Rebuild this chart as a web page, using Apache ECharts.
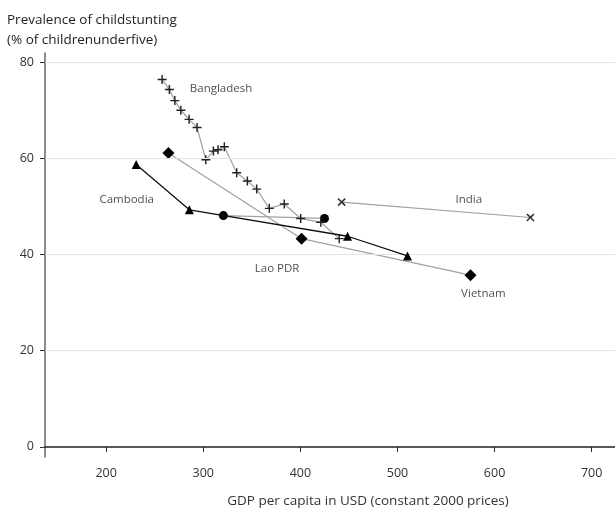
<!DOCTYPE html>
<html>
<head>
<meta charset="utf-8">
<script src="https://cdn.jsdelivr.net/npm/echarts@6/dist/echarts.min.js"></script>
<style>
  html, body { margin: 0; padding: 0; background: #fff; }
  #main { width: 615px; height: 513px; }
</style>
</head>
<body>
<div id="main"></div>
<script>
// GDP per capita (USD, constant 2000 prices) and stunting prevalence (%)
const bangladeshGdp = [257.6, 265.1, 270.7, 276.9, 285.4, 293.6, 302.6, 310.4, 315.2, 321.7, 334.4, 345.4, 355.0, 368.0, 383.4, 400.3, 421.0, 440.0];
const bangladeshStunting = [76.4, 74.3, 72.0, 70.0, 68.1, 66.4, 59.7, 61.5, 61.8, 62.4, 57.0, 55.3, 53.6, 49.6, 50.5, 47.5, 46.7, 43.3];
const cambodiaGdp = [230.9, 285.7, 448.6, 510.3];
const cambodiaStunting = [58.7, 49.3, 43.8, 39.7];
const laoGdp = [320.7, 424.8];
const laoStunting = [48.1, 47.5];
const vietnamGdp = [264.1, 401.2, 575.2];
const vietnamStunting = [61.1, 43.3, 35.7];
const indiaGdp = [442.5, 636.9];
const indiaStunting = [50.9, 47.7];

const xTicks = [200, 300, 400, 500, 600, 700];
const yTicks = [0, 20, 40, 60, 80];
const gridValues = [20, 40, 60, 80];

// country name labels: [gdp, stunting, name]
const countryLabels = [
    [318.3, 74.4, 'Bangladesh'],
    [221.1, 51.3, 'Cambodia'],
    [573.5, 51.4, 'India'],
    [588.4, 31.9, 'Vietnam'],
    [376.0, 37.1, 'Lao PDR']
];

const pair = (xs, ys) => xs.map((x, i) => [x, ys[i]]);

const plusPath = 'path://M4.2,0H5.8V4.2H10V5.8H5.8V10H4.2V5.8H0V4.2H4.2Z';
const font = 'Open Sans';

const myChart = echarts.init(document.getElementById('main'));

const option = {
    animation: false,
    title: {
        text: 'Prevalence of childstunting\n(% of childrenunderfive)',
        left: 2,
        top: 5,
        textStyle: { fontFamily: font, fontSize: 13.5, fontWeight: 'normal', color: '#222', lineHeight: 20 }
    },
    grid: { left: 45, right: 0, top: 53, bottom: 53 },
    xAxis: {
        type: 'value',
        min: 137,
        max: 724,
        name: 'GDP per capita in USD (constant 2000 prices)',
        nameLocation: 'middle',
        nameGap: 37,
        nameTextStyle: { fontFamily: font, fontSize: 13.5, color: '#333', padding: [0, 0, 0, 76] },
        axisLine: { lineStyle: { color: '#222', width: 1.5 } },
        axisTick: { show: true, length: 5, customValues: xTicks, lineStyle: { color: '#222' } },
        axisLabel: { customValues: xTicks, margin: 10, fontFamily: font, fontSize: 12.5, color: '#333' },
        splitLine: { show: false }
    },
    yAxis: {
        type: 'value',
        min: -2.1,
        max: 81.9,
        axisLine: { show: true, lineStyle: { color: '#666', width: 1.5 } },
        axisTick: { show: true, length: 5, customValues: yTicks, lineStyle: { color: '#333' } },
        axisLabel: { customValues: yTicks, margin: 11, fontFamily: font, fontSize: 12.5, color: '#333' },
        splitLine: { show: false }
    },
    series: [
        {
            name: 'grid',
            type: 'line',
            data: [],
            z: 0,
            silent: true,
            markLine: {
                silent: true,
                symbol: 'none',
                label: { show: false },
                lineStyle: { color: '#e3e3e3', width: 1, type: 'solid' },
                data: gridValues.map(v => ({ yAxis: v }))
            }
        },
        {
            name: 'Vietnam',
            type: 'line',
            data: pair(vietnamGdp, vietnamStunting),
            symbol: 'diamond',
            symbolSize: 12,
            lineStyle: { color: '#a0a0a0', width: 1.2 },
            itemStyle: { color: '#000' },
            z: 3
        },
        {
            name: 'Lao PDR',
            type: 'line',
            data: pair(laoGdp, laoStunting),
            symbol: 'circle',
            symbolSize: 9,
            lineStyle: { color: '#a0a0a0', width: 1.2 },
            itemStyle: { color: '#000' },
            z: 3
        },
        {
            name: 'Bangladesh',
            type: 'line',
            data: pair(bangladeshGdp, bangladeshStunting),
            symbol: plusPath,
            symbolSize: 9,
            showAllSymbol: true,
            lineStyle: { color: '#a0a0a0', width: 1.2 },
            itemStyle: { color: '#222' },
            z: 4
        },
        {
            name: 'India',
            type: 'line',
            data: pair(indiaGdp, indiaStunting),
            symbol: plusPath,
            symbolRotate: 45,
            symbolSize: 10,
            lineStyle: { color: '#a0a0a0', width: 1.2 },
            itemStyle: { color: '#333' },
            z: 4
        },
        {
            name: 'Cambodia',
            type: 'line',
            data: pair(cambodiaGdp, cambodiaStunting),
            symbol: 'triangle',
            symbolSize: 9,
            lineStyle: { color: '#111', width: 1.3 },
            itemStyle: { color: '#000' },
            z: 5
        },
        {
            name: 'labels',
            type: 'scatter',
            symbolSize: 0,
            silent: true,
            data: countryLabels.map(d => ({ value: [d[0], d[1]], name: d[2] })),
            label: {
                show: true,
                position: 'inside',
                formatter: p => p.name,
                fontFamily: font,
                fontSize: 11.5,
                color: '#222'
            },
            z: 6
        }
    ]
};

myChart.setOption(option);
</script>
</body>
</html>
